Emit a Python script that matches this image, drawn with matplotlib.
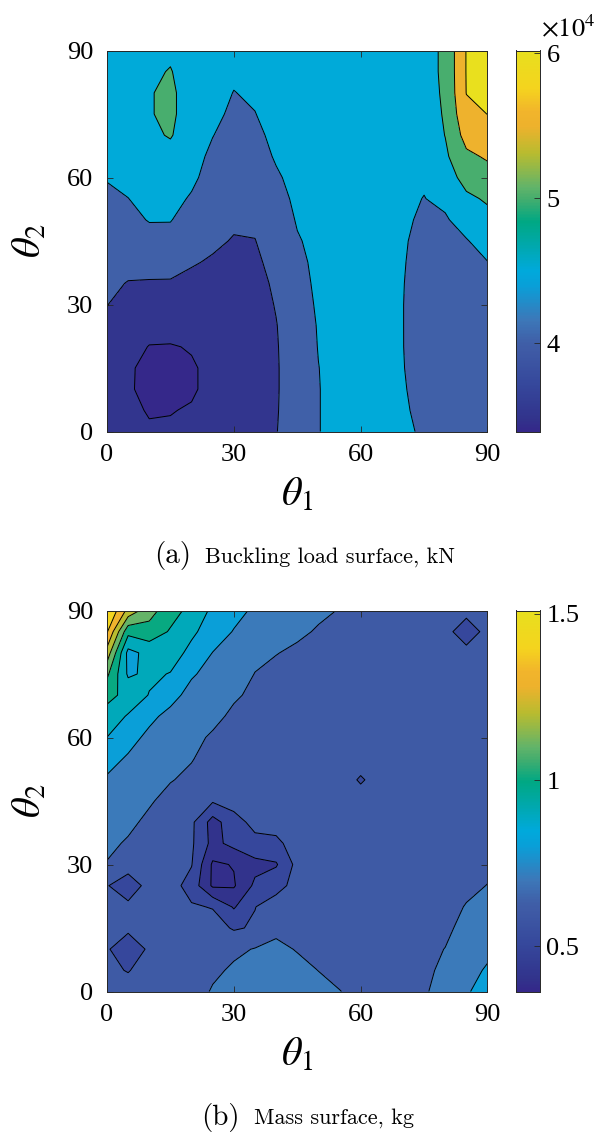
import numpy as np
import matplotlib
matplotlib.use("Agg")
import matplotlib.pyplot as plt
from matplotlib.colors import LinearSegmentedColormap, Normalize

plt.rcParams["font.family"] = ["Liberation Serif", "DejaVu Serif"]
plt.rcParams["mathtext.fontset"] = "stix"

# grid (degrees)
theta1 = np.arange(0, 91, 5)
theta2 = np.arange(0, 91, 5)

# buckling load in units of 1e4 kN; one row per theta1 (0..90), values along theta2 (0..90)
buckling = [
    [3.72, 3.74, 3.76, 3.80, 3.86, 3.93, 4.01, 4.10, 4.18, 4.26, 4.34, 4.43, 4.52, 4.60, 4.66, 4.70, 4.72, 4.73, 4.74],
    [3.60, 3.56, 3.53, 3.54, 3.60, 3.70, 3.84, 3.98, 4.14, 4.28, 4.40, 4.495, 4.60, 4.68, 4.73, 4.77, 4.78, 4.78, 4.77],
    [3.53, 3.48, 3.43, 3.42, 3.49, 3.60, 3.78, 3.96, 4.18, 4.36, 4.52, 4.62, 4.68, 4.73, 4.90, 4.97, 4.97, 4.90, 4.80],
    [3.53, 3.49, 3.43, 3.39, 3.48, 3.62, 3.80, 3.96, 4.16, 4.34, 4.52, 4.62, 4.70, 4.82, 5.04, 5.10, 5.10, 5.03, 4.90],
    [3.58, 3.52, 3.47, 3.47, 3.52, 3.60, 3.72, 3.88, 4.04, 4.16, 4.30, 4.46, 4.58, 4.64, 4.70, 4.75, 4.75, 4.72, 4.70],
    [3.60, 3.58, 3.57, 3.57, 3.60, 3.65, 3.73, 3.84, 3.95, 4.08, 4.18, 4.26, 4.34, 4.42, 4.51, 4.60, 4.65, 4.68, 4.70],
    [3.62, 3.60, 3.60, 3.60, 3.62, 3.66, 3.72, 3.80, 3.88, 3.97, 4.07, 4.15, 4.22, 4.29, 4.35, 4.42, 4.49, 4.57, 4.64],
    [3.70, 3.68, 3.67, 3.67, 3.69, 3.72, 3.77, 3.84, 3.92, 3.99, 4.07, 4.16, 4.25, 4.33, 4.41, 4.49, 4.56, 4.62, 4.66],
    [3.98, 3.96, 3.95, 3.95, 3.96, 3.98, 4.03, 4.08, 4.14, 4.20, 4.28, 4.36, 4.45, 4.54, 4.60, 4.66, 4.70, 4.72, 4.73],
    [4.30, 4.30, 4.30, 4.30, 4.31, 4.33, 4.36, 4.39, 4.42, 4.47, 4.53, 4.58, 4.62, 4.66, 4.70, 4.73, 4.75, 4.77, 4.78],
    [4.49, 4.49, 4.49, 4.495, 4.51, 4.52, 4.54, 4.56, 4.58, 4.60, 4.63, 4.66, 4.69, 4.72, 4.74, 4.76, 4.77, 4.78, 4.79],
    [4.60, 4.60, 4.60, 4.61, 4.62, 4.63, 4.64, 4.65, 4.67, 4.68, 4.70, 4.72, 4.74, 4.76, 4.78, 4.80, 4.81, 4.82, 4.83],
    [4.62, 4.62, 4.62, 4.63, 4.64, 4.65, 4.66, 4.67, 4.68, 4.70, 4.72, 4.74, 4.76, 4.78, 4.79, 4.80, 4.80, 4.80, 4.80],
    [4.56, 4.56, 4.56, 4.56, 4.57, 4.57, 4.58, 4.59, 4.60, 4.62, 4.64, 4.66, 4.68, 4.70, 4.72, 4.73, 4.74, 4.75, 4.75],
    [4.54, 4.53, 4.52, 4.51, 4.505, 4.505, 4.505, 4.51, 4.52, 4.53, 4.55, 4.58, 4.62, 4.66, 4.70, 4.72, 4.74, 4.75, 4.75],
    [4.47, 4.44, 4.41, 4.38, 4.36, 4.35, 4.35, 4.36, 4.38, 4.41, 4.45, 4.49, 4.55, 4.62, 4.70, 4.75, 4.78, 4.80, 4.80],
    [4.30, 4.28, 4.26, 4.25, 4.24, 4.24, 4.25, 4.27, 4.30, 4.36, 4.45, 4.60, 4.80, 4.92, 5.01, 5.05, 5.08, 5.10, 5.10],
    [4.20, 4.18, 4.16, 4.15, 4.14, 4.14, 4.16, 4.20, 4.30, 4.47, 4.70, 4.92, 5.15, 5.40, 5.68, 5.88, 6.01, 6.02, 6.02],
    [4.15, 4.13, 4.11, 4.10, 4.09, 4.10, 4.14, 4.24, 4.49, 4.70, 4.88, 5.05, 5.30, 5.56, 5.80, 6.005, 6.015, 6.02, 6.02],
]

# mass in kg; one row per theta1 (0..90), values along theta2 (0..90)
mass = [
    [0.64, 0.62, 0.61, 0.62, 0.62, 0.605, 0.695, 0.72, 0.745, 0.77, 0.79, 0.83, 0.899, 0.96, 1.03, 1.12, 1.26, 1.41, 1.51],
    [0.64, 0.595, 0.54, 0.62, 0.62, 0.55, 0.64, 0.69, 0.72, 0.745, 0.77, 0.79, 0.83, 0.89, 0.97, 0.885, 0.87, 1.03, 1.27],
    [0.65, 0.64, 0.615, 0.63, 0.63, 0.63, 0.64, 0.65, 0.68, 0.71, 0.73, 0.755, 0.78, 0.82, 0.895, 0.92, 0.93, 1.06, 1.14],
    [0.66, 0.65, 0.645, 0.64, 0.64, 0.64, 0.645, 0.65, 0.66, 0.67, 0.705, 0.72, 0.745, 0.775, 0.83, 0.895, 0.95, 0.99, 1.04],
    [0.65, 0.645, 0.64, 0.63, 0.61, 0.56, 0.605, 0.615, 0.62, 0.65, 0.68, 0.705, 0.72, 0.745, 0.77, 0.81, 0.87, 0.92, 0.97],
    [0.71, 0.68, 0.66, 0.64, 0.595, 0.385, 0.385, 0.47, 0.46, 0.61, 0.645, 0.665, 0.69, 0.72, 0.745, 0.77, 0.798, 0.85, 0.88],
    [0.73, 0.715, 0.68, 0.59, 0.49, 0.39, 0.405, 0.53, 0.56, 0.64, 0.65, 0.66, 0.67, 0.685, 0.71, 0.74, 0.76, 0.795, 0.83],
    [0.74, 0.73, 0.705, 0.61, 0.598, 0.52, 0.47, 0.57, 0.63, 0.65, 0.655, 0.66, 0.665, 0.67, 0.685, 0.698, 0.72, 0.74, 0.785],
    [0.75, 0.74, 0.72, 0.68, 0.64, 0.57, 0.49, 0.58, 0.635, 0.65, 0.655, 0.66, 0.665, 0.67, 0.675, 0.685, 0.702, 0.72, 0.74],
    [0.74, 0.725, 0.695, 0.67, 0.655, 0.63, 0.63, 0.64, 0.65, 0.655, 0.66, 0.665, 0.665, 0.67, 0.675, 0.68, 0.69, 0.71, 0.725],
    [0.725, 0.699, 0.68, 0.665, 0.66, 0.655, 0.65, 0.65, 0.65, 0.655, 0.66, 0.66, 0.665, 0.665, 0.67, 0.675, 0.68, 0.695, 0.71],
    [0.702, 0.68, 0.67, 0.66, 0.655, 0.65, 0.65, 0.65, 0.65, 0.65, 0.645, 0.65, 0.655, 0.66, 0.665, 0.67, 0.675, 0.685, 0.698],
    [0.68, 0.67, 0.665, 0.66, 0.655, 0.65, 0.645, 0.645, 0.645, 0.64, 0.59, 0.64, 0.645, 0.65, 0.655, 0.66, 0.665, 0.67, 0.68],
    [0.67, 0.665, 0.66, 0.655, 0.65, 0.645, 0.64, 0.64, 0.64, 0.64, 0.64, 0.64, 0.64, 0.645, 0.645, 0.65, 0.65, 0.655, 0.66],
    [0.675, 0.67, 0.665, 0.66, 0.655, 0.65, 0.645, 0.64, 0.635, 0.635, 0.635, 0.635, 0.635, 0.635, 0.64, 0.64, 0.645, 0.645, 0.65],
    [0.69, 0.68, 0.675, 0.67, 0.66, 0.655, 0.65, 0.645, 0.64, 0.635, 0.635, 0.63, 0.63, 0.63, 0.63, 0.63, 0.63, 0.63, 0.635],
    [0.735, 0.72, 0.702, 0.68, 0.67, 0.66, 0.65, 0.645, 0.64, 0.635, 0.63, 0.63, 0.63, 0.63, 0.63, 0.625, 0.62, 0.62, 0.625],
    [0.79, 0.77, 0.75, 0.73, 0.705, 0.68, 0.665, 0.655, 0.645, 0.64, 0.635, 0.63, 0.63, 0.625, 0.625, 0.62, 0.62, 0.565, 0.62],
    [0.84, 0.81, 0.78, 0.755, 0.73, 0.702, 0.68, 0.665, 0.655, 0.645, 0.64, 0.635, 0.63, 0.63, 0.625, 0.625, 0.62, 0.62, 0.62],
]

buckling_levels = [3.5, 4.0, 4.5, 5.0, 5.5, 6.0]
mass_levels = [0.4, 0.5, 0.6, 0.7, 0.8, 0.9, 1.0, 1.1, 1.2, 1.3, 1.4, 1.5]
buckling_clim = (3.39, 6.02)
mass_clim = (0.364, 1.51)

# parula-like map as it appears in the figure
parula = LinearSegmentedColormap.from_list("parula_like", [
    (0.00, "#35288a"), (0.03, "#32338c"), (0.12, "#36489c"), (0.21, "#3f5ba6"),
    (0.23, "#405fa8"), (0.29, "#3d78b9"), (0.38, "#0a9fd8"), (0.42, "#00aadc"),
    (0.47, "#00a9b8"), (0.55, "#00a884"), (0.61, "#46ae6e"), (0.64, "#62b46a"),
    (0.73, "#b9bc30"), (0.80, "#eeb22d"), (0.84, "#f2b52c"), (0.90, "#f5d41f"),
    (1.00, "#e8e01e"),
])

W, H = 604, 1134
fig = plt.figure(figsize=(W / 100, H / 100), dpi=100)


def px_box(x0, y0, x1, y1):
    return [x0 / W, 1 - y1 / H, (x1 - x0) / W, (y1 - y0) / H]


def frame(ax):
    for s in ax.spines.values():
        s.set_color("#262626")
        s.set_linewidth(0.7)


def surface(ax, cax, rows, levels, clim, ticks, ticklabels):
    z = np.array(rows).T  # rows over theta2, columns over theta1
    norm = Normalize(*clim)
    bounds = [z.min() - 1e-6] + levels + [z.max() + 1e-6]
    fills = [parula(norm(max(b, clim[0]))) for b in bounds[:-1]]
    ax.contourf(theta1, theta2, z, levels=bounds, colors=fills)
    ax.contour(theta1, theta2, z, levels=levels, colors="k", linewidths=0.7)
    ax.set_xlim(0, 90)
    ax.set_ylim(0, 90)
    ax.set_xticks([0, 30, 60, 90])
    ax.set_yticks([0, 30, 60, 90])
    ax.tick_params(direction="in", length=4, width=0.6, top=True, right=True,
                   labelsize=19, color="#262626")
    ax.tick_params(axis="x", pad=9)
    ax.tick_params(axis="y", pad=10)
    frame(ax)
    ax.set_xlabel(r"$\theta_1$", fontsize=29, labelpad=8)
    ax.set_ylabel(r"$\theta_2$", fontsize=29, labelpad=12)

    # continuous colour bar, as MATLAB draws it
    grad = np.linspace(clim[0], clim[1], 512)[:, None]
    cax.imshow(grad, aspect="auto", origin="lower", cmap=parula, norm=norm,
               extent=[0, 1, clim[0], clim[1]], interpolation="nearest")
    cax.set_facecolor(parula(0.0))
    cax.set_xlim(0, 1)
    cax.set_ylim(*clim)
    cax.set_xticks([])
    cax.yaxis.tick_right()
    cax.set_yticks(ticks)
    cax.set_yticklabels(ticklabels)
    cax.tick_params(axis="y", direction="in", length=4, width=0.6, labelsize=19,
                    color="#262626", pad=5)
    frame(cax)


ax1 = fig.add_axes(px_box(107, 50.5, 487.5, 431.5))
cax1 = fig.add_axes(px_box(515.5, 50.5, 539.5, 431.5))
surface(ax1, cax1, buckling, buckling_levels, buckling_clim, [4, 5, 6], ["4", "5", "6"])
fig.text(541 / W, 1 - 28 / H, r"$\times10^4$", fontsize=19, va="center", ha="left")

ax2 = fig.add_axes(px_box(107, 610.5, 487.5, 991.5))
cax2 = fig.add_axes(px_box(515.5, 610.5, 539.5, 991.5))
surface(ax2, cax2, mass, mass_levels, mass_clim, [0.5, 1, 1.5], ["0.5", "1", "1.5"])

fig.text(191 / W, 1 - 556 / H, "(a)", family="cmr10", fontsize=21, ha="right", va="center")
fig.text(205 / W, 1 - 557 / H, "Buckling load surface, kN", family="cmr10",
         fontsize=16, ha="left", va="center")
fig.text(240 / W, 1 - 1117 / H, "(b)", family="cmr10", fontsize=21, ha="right", va="center")
fig.text(254 / W, 1 - 1118 / H, "Mass surface, kg", family="cmr10",
         fontsize=16, ha="left", va="center")

fig.savefig("out.png", dpi=100)
